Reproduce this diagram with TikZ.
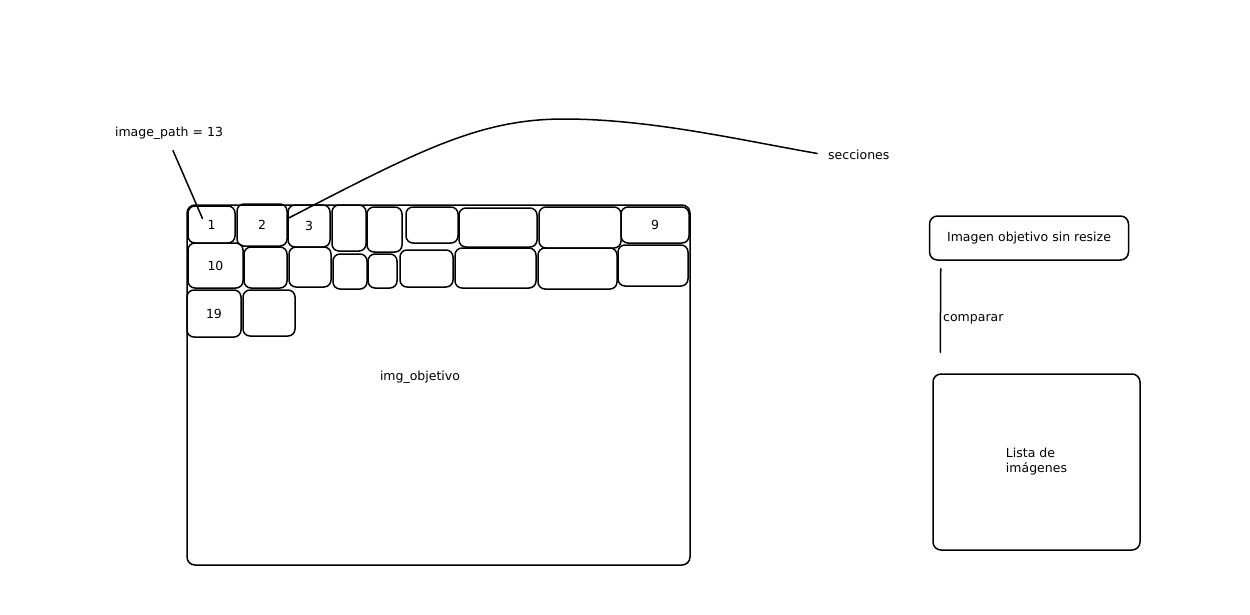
\documentclass[tikz,border=0pt]{standalone}
\usepackage{fontspec}
\setmainfont{DejaVu Sans}
\usetikzlibrary{calc}

\begin{document}
\begin{tikzpicture}[
    x=1pt, y=-1pt,
    font=\fontsize{12.5}{15}\selectfont,
    box/.style={rectangle, rounded corners=8pt, draw=black, line width=1.5pt,
                inner sep=0pt},
    cell/.style={box, rounded corners=7pt},
    conn/.style={line width=1.5pt, line cap=round},
    txt/.style={inner sep=2pt}
]
\useasboundingbox (0,0) rectangle (1250,614);

% target image with its sections
\node[box, minimum width=503pt, minimum height=360pt] (imgobj) at (438.5,385) {};
\node[txt] (imgobjlbl) at (420,377) {img\_objetivo};

\node[cell, minimum width=47pt, minimum height=37pt] (c1) at (211.5,224.5) {1};
\node[cell, minimum width=50pt, minimum height=42pt] (c2) at (262,225) {2};
\node[cell, minimum width=42pt, minimum height=42pt] (c3) at (309,226) {3};
\node[cell, minimum width=34pt, minimum height=46pt] (c4) at (349,228) {};
\node[cell, minimum width=35pt, minimum height=45pt] (c5) at (384.5,229.5) {};
\node[cell, minimum width=52pt, minimum height=36pt] (c6) at (432,225) {};
\node[cell, minimum width=78pt, minimum height=39pt] (c7) at (498,227.5) {};
\node[cell, minimum width=82pt, minimum height=41pt] (c8) at (580,227.5) {};
\node[cell, minimum width=68pt, minimum height=36pt] (c9) at (655,225) {9};

\node[cell, minimum width=55pt, minimum height=45pt] (c10) at (215.5,265.5) {10};
\node[cell, minimum width=43pt, minimum height=41pt] (c11) at (265.5,267.5) {};
\node[cell, minimum width=42pt, minimum height=40pt] (c12) at (310,267) {};
\node[cell, minimum width=34pt, minimum height=35pt] (c13) at (350,271.5) {};
\node[cell, minimum width=29pt, minimum height=34pt] (c14) at (382.5,271) {};
\node[cell, minimum width=53pt, minimum height=37pt] (c15) at (426.5,268.5) {};
\node[cell, minimum width=81pt, minimum height=40pt] (c16) at (495.5,268) {};
\node[cell, minimum width=79pt, minimum height=41pt] (c17) at (577.5,268.5) {};
\node[cell, minimum width=70pt, minimum height=41pt] (c18) at (653,265.5) {};

\node[cell, minimum width=54pt, minimum height=47pt] (c19) at (214,313.5) {19};
\node[cell, minimum width=52pt, minimum height=46pt] (c20) at (269,313) {};

% annotations
\node[txt] (pathlbl) at (169,133) {image\_path = 13};
\node[txt, anchor=west] (secclbl) at (826,155) {secciones};

\draw[conn, shorten <=10pt] (pathlbl.south) -- ($(c1.center)+(-9,-6)$);
\draw[conn, shorten >=9pt] ($(c2.east)+(1,-7)$)
    .. controls (420,150) and (480,119) .. (564,119)
    .. controls (650,119) and (740,140) .. (secclbl.west);

% right side
\node[box, minimum width=199pt, minimum height=44pt] (target) at (1029,238)
    {Imagen objetivo sin resize};
\node[box, minimum width=207pt, minimum height=176pt, align=left] (lista)
    at (1036.5,462) {Lista de\\imágenes};

\draw[conn] ($(target.south west)+(12,8)$) -- ($(lista.north west)+(8,-21)$)
    node[pos=0.6, right, txt] (complbl) {comparar};
\end{tikzpicture}
\end{document}
